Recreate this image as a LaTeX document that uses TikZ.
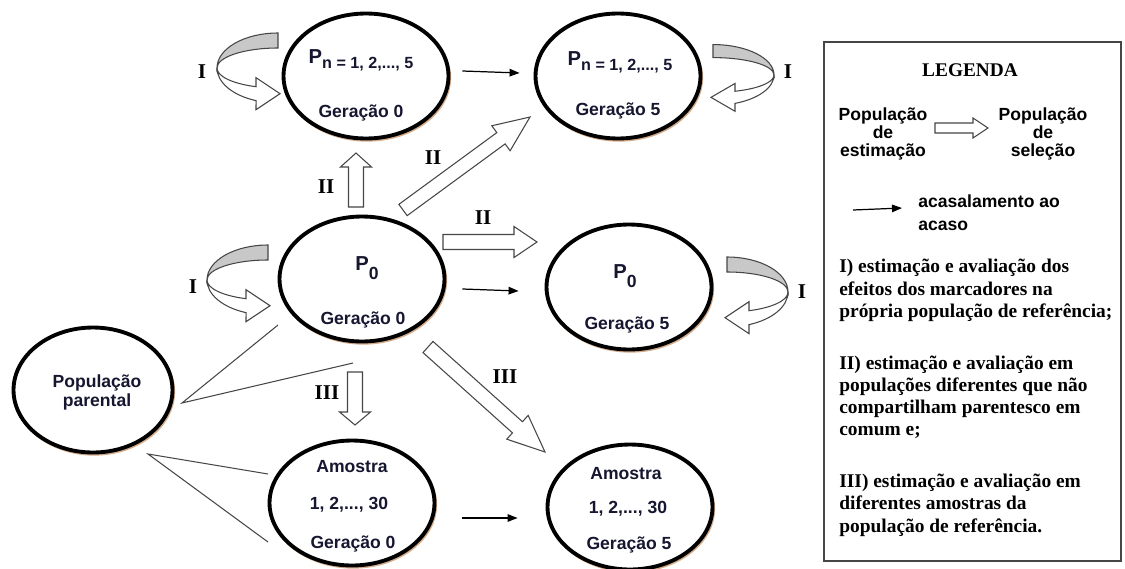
\documentclass[tikz,border=0pt]{standalone}
\usepackage{fontspec}
\setmainfont{Liberation Serif}
\setsansfont{Liberation Sans}
\usetikzlibrary{arrows.meta,calc,shapes.geometric,shadows}
\definecolor{rim}{RGB}{212,172,138}
\definecolor{edge}{RGB}{70,70,70}
\definecolor{face}{RGB}{200,200,200}
\definecolor{ink}{RGB}{22,22,48}
\tikzset{
  pop/.style={ellipse,draw,line width=2.2pt,fill=white,minimum width=3.3cm,minimum height=2.5cm,inner sep=0pt,
    general shadow={draw=rim,line width=1.6pt,shadow xshift=0.7pt,shadow yshift=-1pt}},
  etxt/.style={font=\sffamily\bfseries\fontsize{10}{12}\selectfont,text=ink,inner sep=0pt,anchor=base},
  ltxt/.style={font=\sffamily\bfseries\fontsize{10}{10.5}\selectfont,inner sep=0pt,align=center},
  rom/.style={font=\bfseries\fontsize{12}{14}\selectfont,inner sep=0pt},
  mate/.style={-{Triangle[length=2mm,width=1.5mm]},line width=0.7pt},
  blk/.style={draw=edge,fill=white,line width=0.6pt},
  lnk/.style={draw=edge,line width=0.6pt},
  curlface/.style={draw=edge,fill=face,line width=0.6pt},
  curlback/.style={draw=edge,fill=white,line width=0.6pt},
  curl/.pic={
    \draw[curlface] (0,-35) arc[start angle=-90,end angle=-180,x radius=61,y radius=35]
      arc[start angle=180,end angle=270,x radius=61,y radius=20] -- cycle;
    \draw[curlback] (-61,0) arc[start angle=180,end angle=111.1,x radius=61,y radius=35]
      -- (-22,41.7) -- (2,25.7) -- (-22,9.7) -- (-22,18.7)
      arc[start angle=111.1,end angle=180,x radius=61,y radius=20] -- cycle;
  }
}
% hollow block arrow: tail, tip, head length, half shaft, half head
\newcommand{\blockarr}[5]{%
  \coordinate (hb) at ($(#2)!#3!(#1)$);
  \draw[blk] ($(#1)!#4!90:(#2)$) -- ($(hb)!#4!90:(#2)$) -- ($(hb)!#5!90:(#2)$) -- (#2)
    -- ($(hb)!#5!-90:(#2)$) -- ($(hb)!#4!-90:(#2)$) -- ($(#1)!#4!-90:(#2)$) -- cycle;
}
\begin{document}
\begin{tikzpicture}[x=0.02cm,y=-0.02cm]
\useasboundingbox (0,0) rectangle (1125,568);

% populations
\node[pop] (pn0) at (366,76) {};
\node[pop] (pn5) at (618,76) {};
\node[pop] (pz0) at (362,279) {};
\node[pop] (pz5) at (629,287) {};
\node[pop,minimum width=3.18cm] (par) at (93,390) {};
\node[pop] (am0) at (352,503) {};
\node[pop] (am5) at (630,507) {};

\node[etxt] (pn0a) at (361,63) {{\fontsize{11.5}{13}\selectfont P}\raisebox{-0.1cm}{\fontsize{9.2}{11}\selectfont n = 1, 2,..., 5}};
\node[etxt] (pn0b) at (361,117) {Geração 0};
\node[etxt] (pn5a) at (620,65) {{\fontsize{11.5}{13}\selectfont P}\raisebox{-0.1cm}{\fontsize{9.2}{11}\selectfont n = 1, 2,..., 5}};
\node[etxt] (pn5b) at (618,115) {Geração 5};
\node[etxt] (pz0a) at (367,270) {{\fontsize{11.5}{13}\selectfont P}\raisebox{-0.19cm}{0}};
\node[etxt] (pz0b) at (363,324) {Geração 0};
\node[etxt] (pz5a) at (625,278) {{\fontsize{11.5}{13}\selectfont P}\raisebox{-0.19cm}{0}};
\node[etxt] (pz5b) at (627,329) {Geração 5};
\node[etxt,anchor=center,align=center,font=\sffamily\bfseries\fontsize{10}{10.8}\selectfont] (para) at (97,392) {População\\parental};
\node[etxt] (am0a) at (352,472) {Amostra};
\node[etxt] (am0b) at (349,509) {1, 2,..., 30};
\node[etxt] (am0c) at (353,548) {Geração 0};
\node[etxt] (am5a) at (626,479) {Amostra};
\node[etxt] (am5b) at (628,513) {1, 2,..., 30};
\node[etxt] (am5c) at (629,549) {Geração 5};

% random mating
\draw[mate] ($(pn0.east)+(12,-5)$) -- ($(pn5.west)+(-14,-3)$);
\draw[mate] ($(pz0.east)+(16,10)$) -- ($(pz5.west)+(-26,4)$);
\draw[mate] ($(am0.east)+(26,15)$) -- ($(am5.west)+(-28,11)$);

% estimation -> selection
\coordinate (u1) at (356,207); \coordinate (u2) at (356,153);
\coordinate (d1) at (403,210); \coordinate (d2) at (530,117);
\coordinate (h1) at (443,242); \coordinate (h2) at (537,242);
\coordinate (v1) at (355,372); \coordinate (v2) at (355,425);
\coordinate (e1) at (428,347); \coordinate (e2) at (545,452);
\blockarr{u1}{u2}{0.28cm}{0.15cm}{0.31cm}
\blockarr{d1}{d2}{0.72cm}{0.14cm}{0.31cm}
\blockarr{h1}{h2}{0.46cm}{0.15cm}{0.31cm}
\blockarr{v1}{v2}{0.26cm}{0.15cm}{0.31cm}
\blockarr{e1}{e2}{0.74cm}{0.15cm}{0.32cm}

% same population
\pic at (278,68) {curl};
\pic[xscale=-1,yscale=.87] at (713,75) {curl};
\pic at (268,280) {curl};
\pic[xscale=-1] at (727,292) {curl};

\node[rom] (r1) at (202,72) {I};
\node[rom] (r2) at (788,72) {I};
\node[rom] (r3) at (193,287) {I};
\node[rom] (r4) at (802,292) {I};
\node[rom] (r5) at (326,187) {II};
\node[rom] (r6) at (433,158) {II};
\node[rom] (r7) at (483,218) {II};
\node[rom] (r8) at (327,393) {III};
\node[rom] (r9) at (505,377) {III};

% parental population
\coordinate (pp1) at (182,403); \coordinate (c1) at (278,325); \coordinate (c2) at (353,363);
\coordinate (pp2) at (148,454); \coordinate (c3) at (268,474); \coordinate (c4) at (268,542);
\draw[lnk] (c1) -- (pp1) -- (c2);
\draw[lnk] (c3) -- (pp2) -- (c4);

% legend
\node[draw=edge,line width=0.8pt,minimum width=5.94cm,minimum height=10.38cm,inner sep=0pt] (leg) at (972.5,301.5) {};
\node[font=\bfseries\fontsize{11}{13}\selectfont] (legt) at (970,70) {LEGENDA};
\node[ltxt] (lest) at (883,134) {População\\de\\estimação};
\node[ltxt] (lsel) at (1043,134) {População\\de\\seleção};
\coordinate (k1) at (935,128); \coordinate (k2) at (988,128);
\blockarr{k1}{k2}{0.3cm}{0.1cm}{0.2cm}
\coordinate (m1) at (853,210); \coordinate (m2) at (902,208);
\draw[mate] (m1) -- (m2);
\node[ltxt,align=left,anchor=west,font=\sffamily\bfseries\fontsize{10}{13}\selectfont] (lmat) at (918,213) {acasalamento ao\\acaso};
\node[anchor=north west,align=left,inner sep=0pt,font=\bfseries\fontsize{11.05}{12.6}\selectfont] (ldesc) at (839,259)
  {I) estimação e avaliação dos\\efeitos dos marcadores na\\própria população de referência;\\[0.6cm]
   II) estimação e avaliação em\\populações diferentes que não\\compartilham parentesco em\\comum e;\\[0.6cm]
   III) estimação e avaliação em\\diferentes amostras da\\população de referência.};
\end{tikzpicture}
\end{document}
